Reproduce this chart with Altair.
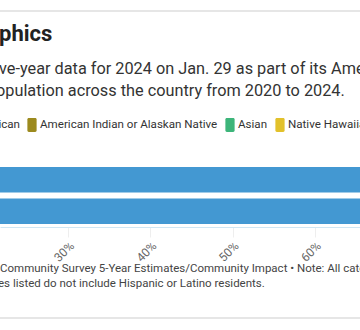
import altair as alt
import pandas as pd

years = ["2020", "2024"]
races = [
    "White",
    "Black or African American",
    "American Indian or Alaskan Native",
    "Asian",
    "Native Hawaiian or Other Pacific Islander",
    "Two or more races",
]
race_colors = ["#4398d2", "#e07b39", "#9c8a1e", "#3db57a", "#e2c12b", "#a66bb0"]
share_2020 = [0.742, 0.078, 0.004, 0.112, 0.001, 0.055]
share_2024 = [0.718, 0.082, 0.004, 0.128, 0.001, 0.060]
x_ticks = [0.3, 0.4, 0.5, 0.6]

title_text = "phics"
subtitle_lines = [
    "ve-year data for 2024 on Jan. 29 as part of its American",
    "opulation across the country from 2020 to 2024.",
]
source_lines = [
    "Community Survey 5-Year Estimates/Community Impact • Note: All categories",
    "es listed do not include Hispanic or Latino residents.",
]

rows = []
for yr, shares in zip(years, [share_2020, share_2024]):
    for i, (r, s) in enumerate(zip(races, shares)):
        rows.append({"year": yr, "race": r, "share": s, "order": i})
df = pd.DataFrame(rows)

FONT = "Roboto"
PAD_TOP = 164
PLOT_H = 63

bars = (
    alt.Chart(df)
    .mark_bar(clip=True)
    .encode(
        x=alt.X(
            "share:Q",
            stack="zero",
            scale=alt.Scale(domain=[0.2174, 0.6548], nice=False, zero=False),
            axis=alt.Axis(
                values=x_ticks,
                format=".0%",
                title=None,
                labelAngle=-45,
                labelFont=FONT,
                labelFontSize=12,
                labelColor="#666666",
                labelPadding=3,
                tickSize=10,
                tickColor="#eeeeee",
                domainColor="#cfe6f3",
                grid=False,
            ),
        ),
        y=alt.Y(
            "year:N",
            sort=years,
            axis=None,
            scale=alt.Scale(paddingInner=0.19, paddingOuter=0.095),
        ),
        color=alt.Color(
            "race:N",
            sort=races,
            scale=alt.Scale(domain=races, range=race_colors),
            legend=alt.Legend(
                title=None,
                orient="none",
                direction="horizontal",
                legendX=-179,
                legendY=-46,
                symbolType="M-0.46,-1 H0.46 A0.2,0.2 0 0 1 0.66,-0.8 V0.8 A0.2,0.2 0 0 1 0.46,1 H-0.46 A0.2,0.2 0 0 1 -0.66,0.8 V-0.8 A0.2,0.2 0 0 1 -0.46,-1 Z",
                symbolSize=196,
                symbolStrokeWidth=0,
                labelFont=FONT,
                labelFontSize=11.6,
                labelColor="#333333",
                labelOffset=1,
                columnPadding=5,
                padding=0,
                labelLimit=400,
            ),
        ),
        order=alt.Order("order:Q"),
    )
)

def txt(s, x, y, size, color, weight="normal"):
    return (
        alt.Chart(pd.DataFrame({"t": [s]}))
        .mark_text(
            align="left",
            baseline="alphabetic",
            font=FONT,
            fontSize=size,
            fontWeight=weight,
            color=color,
        )
        .encode(text="t:N", x=alt.value(x), y=alt.value(y - PAD_TOP))
    )

def hline(y):
    return (
        alt.Chart(pd.DataFrame({"a": [0]}))
        .mark_rule(color="#e6e6e6", strokeWidth=2)
        .encode(x=alt.value(0), x2=alt.value(360), y=alt.value(y - PAD_TOP))
    )

layers = [
    hline(11),
    txt(title_text, -1, 41, 22, "#222222", "bold"),
    txt(subtitle_lines[0], -1, 74, 16.3, "#333333"),
    txt(subtitle_lines[1], -4, 96, 16.3, "#333333"),
    bars,
    txt(source_lines[0], 0, 272, 11.5, "#444444"),
    txt(source_lines[1], -2, 287, 11.5, "#444444"),
    hline(318),
]

chart = (
    alt.layer(*layers)
    .properties(
        width=360,
        height=PLOT_H,
        autosize=alt.AutoSizeParams(type="none"),
        padding={"top": PAD_TOP, "left": 0, "right": 0, "bottom": 330 - PAD_TOP - PLOT_H},
        background="white",
    )
    .configure_view(stroke=None)
)

chart.save("out.html", embed_options={"renderer": "svg", "actions": False})
